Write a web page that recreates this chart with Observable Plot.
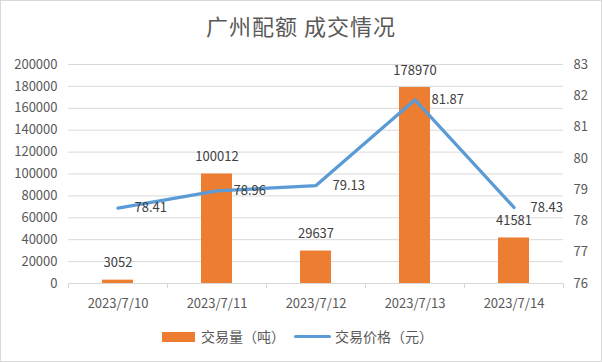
<!DOCTYPE html>
<html><head><meta charset="utf-8">
<script src="https://cdn.jsdelivr.net/npm/d3@7"></script>
<script src="https://cdn.jsdelivr.net/npm/@observablehq/plot@0.6"></script>
<style>
body{margin:0;background:#fff;}
#wrap{position:relative;width:602px;height:362px;overflow:hidden;font-family:"Noto Sans CJK SC","Noto Sans",sans-serif;background:#fff;}
#border{position:absolute;left:0;top:0;width:602px;height:362px;box-sizing:border-box;border:1px solid #d9d9d9;pointer-events:none;}
#title{position:absolute;left:0;top:14px;width:602px;text-align:center;font-size:22px;line-height:22px;color:#595959;letter-spacing:1px;}
#chart{position:absolute;left:0;top:45px;}
.lg{position:absolute;}
.lgt{position:absolute;font-size:14px;line-height:14px;color:#595959;white-space:nowrap;top:329px;}
</style></head><body>
<div id="wrap">
  <div id="title"></div>
  <div id="chart"></div>
  <div id="legend"></div>
  <div id="border"></div>
</div>
<script>
const title = "广州配额 成交情况";
const dates = ["2023/7/10", "2023/7/11", "2023/7/12", "2023/7/13", "2023/7/14"];
const volumes = [3052, 100012, 29637, 178970, 41581];
const prices = [78.41, 78.96, 79.13, 81.87, 78.43];
const volTicks = [0, 20000, 40000, 60000, 80000, 100000, 120000, 140000, 160000, 180000, 200000];
const priceTicks = [76, 77, 78, 79, 80, 81, 82, 83];
const seriesNames = ["交易量（吨）", "交易价格（元）"];

const barColor = "#ED7D31", lineColor = "#5B9BD5";
document.getElementById("title").textContent = title;

const table = dates.map((d, i) => ({date: d, vol: volumes[i], price: prices[i]}));
const vMax = volTicks[volTicks.length - 1];
const pMin = priceTicks[0], pMax = priceTicks[priceTicks.length - 1];
const toLeft = p => (p - pMin) / (pMax - pMin) * vMax;
const fromLeft = v => pMin + v / vMax * (pMax - pMin);

const W = 602, H = 270, mL = 68, mR = 39, mT = 19, mB = 32;
const bw = (W - mL - mR) / dates.length;

const plot = Plot.plot({
  width: W, height: H,
  marginTop: mT, marginBottom: mB, marginLeft: mL, marginRight: mR,
  style: {fontFamily: '"Noto Sans CJK SC","Noto Sans",sans-serif', fontSize: "13px", color: "#595959", background: "transparent", overflow: "visible"},
  x: {type: "band", domain: dates, padding: 0, label: null},
  y: {domain: [0, vMax], label: null},
  marks: [
    Plot.gridY(volTicks, {stroke: "#d9d9d9", strokeOpacity: 1}),
    Plot.axisY(volTicks, {anchor: "left", tickSize: 0, tickPadding: 11, label: null, tickFormat: d => String(d)}),
    Plot.axisY(priceTicks.map(toLeft), {anchor: "right", tickSize: 0, tickPadding: 10, label: null, tickFormat: d => String(Math.round(fromLeft(d)))}),
    Plot.axisX({tickSize: 0, tickPadding: 15, label: null}),
    Plot.axisX({tickSize: 5, text: null, dx: -bw / 2, stroke: "#d9d9d9", label: null}),
    Plot.axisX([dates[dates.length - 1]], {tickSize: 5, text: null, dx: bw / 2, stroke: "#d9d9d9", label: null}),
    Plot.barY(table, {x: "date", y: "vol", fill: barColor, insetLeft: 34, insetRight: 34}),
    Plot.line(table, {x: "date", y: d => toLeft(d.price), stroke: lineColor, strokeWidth: 3.3, strokeLinejoin: "round", strokeLinecap: "round"}),
    Plot.text(table, {x: "date", y: "vol", text: d => String(d.vol), dy: -17, fill: "#404040"}),
    Plot.text(table, {x: "date", y: d => toLeft(d.price), text: d => d.price.toFixed(2), textAnchor: "start", dx: 16.5, fill: "#404040"})
  ]
});
document.getElementById("chart").appendChild(plot);

// legend
const lg = document.getElementById("legend");
const sw1 = document.createElement("div");
sw1.className = "lg";
Object.assign(sw1.style, {left: "162px", top: "332px", width: "33px", height: "10px", background: barColor});
const t1 = document.createElement("div");
t1.className = "lgt"; t1.style.left = "201px"; t1.textContent = seriesNames[0];
const sw2 = document.createElement("div");
sw2.className = "lg";
Object.assign(sw2.style, {left: "294px", top: "335px", width: "37px", height: "3px", background: lineColor, borderRadius: "1.5px"});
const t2 = document.createElement("div");
t2.className = "lgt"; t2.style.left = "335px"; t2.textContent = seriesNames[1];
lg.append(sw1, t1, sw2, t2);
</script>
</body></html>
